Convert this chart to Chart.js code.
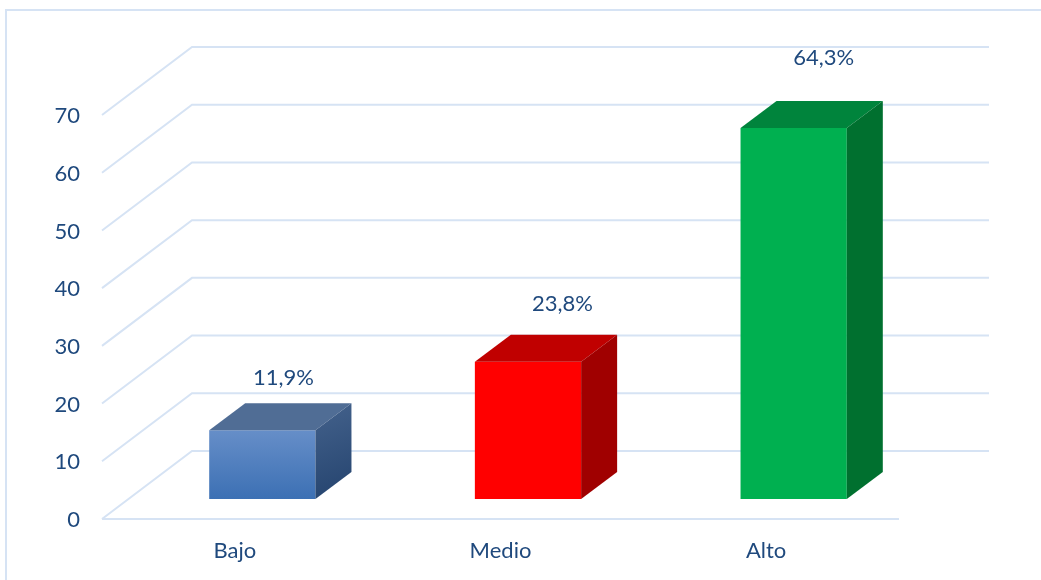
<!DOCTYPE html>
<html>
<head>
<meta charset="utf-8">
<style>
  html, body { margin: 0; padding: 0; background: #fff; overflow: hidden; }
  #wrap { position: relative; width: 1041px; height: 580px; }
  #frame { position: absolute; left: 5px; top: 9px; right: 0; bottom: 0; border-left: 2px solid #d6e3f4; border-top: 2px solid #d6e3f4; }
  canvas { position: absolute; left: 0; top: 0; }
</style>
</head>
<body>
<div id="wrap">
  <div id="frame"></div>
  <canvas id="chart" width="1041" height="580"></canvas>
</div>
<script src="https://cdn.jsdelivr.net/npm/chart.js@4/dist/chart.umd.js"></script>
<script>
const categories = ['Bajo', 'Medio', 'Alto'];
const values = [11.9, 23.8, 64.3];
const yTicks = [0, 10, 20, 30, 40, 50, 60, 70];

const textColor = '#1f497d';
const gridColor = '#d6e3f4';
const fontFamily = 'Lato, "Open Sans", sans-serif';

// front, top and side face colours of each bar
const frontTop = ['#668ec8', '#ff0000', '#00b050'];
const frontBottom = ['#3c70b4', '#ff0000', '#00b050'];
const topFace = ['#506d95', '#c00000', '#00843c'];
const sideStart = ['#44628c', '#a00000', '#00702f'];
const sideEnd = ['#24436e', '#a00000', '#00702f'];

// 3d offsets, in pixels
const wall = { dx: 90, dy: 68 };
const barShift = { dx: 27.5, dy: 20 };
const barDepth = { dx: 36, dy: 27 };

// the data labels were placed by hand in the original
const labelShiftX = [21, 34.5, 30];
const labelShiftY = [-52, -58, -70];

// back wall and floor grid, drawn from the y scale
const gridPlugin = {
  id: 'grid3d',
  beforeDatasetsDraw(chart) {
    const { ctx, scales: { x, y } } = chart;
    ctx.save();
    ctx.strokeStyle = gridColor;
    ctx.lineWidth = 2;
    yTicks.forEach(t => {
      const py = y.getPixelForValue(t);
      ctx.beginPath();
      ctx.moveTo(x.left, py);
      ctx.lineTo(x.left + wall.dx, py - wall.dy);
      ctx.lineTo(x.right + wall.dx, py - wall.dy);
      ctx.stroke();
    });
    ctx.beginPath();
    ctx.moveTo(x.left, y.bottom);
    ctx.lineTo(x.right, y.bottom);
    ctx.stroke();
    ctx.restore();
  },
  // native bars are the front faces, pushed back into the floor
  beforeDatasetDraw(chart) {
    chart.ctx.save();
    chart.ctx.translate(barShift.dx, -barShift.dy);
  },
  afterDatasetDraw(chart) {
    chart.ctx.restore();
  },
  afterDatasetsDraw(chart) {
    const { ctx } = chart;
    const bars = chart.getDatasetMeta(0).data;
    ctx.save();
    bars.forEach((bar, i) => {
      const left = bar.x - bar.width / 2 + barShift.dx;
      const right = bar.x + bar.width / 2 + barShift.dx;
      const top = bar.y - barShift.dy;
      const bottom = bar.base - barShift.dy;

      ctx.fillStyle = topFace[i];
      ctx.beginPath();
      ctx.moveTo(left, top);
      ctx.lineTo(left + barDepth.dx, top - barDepth.dy);
      ctx.lineTo(right + barDepth.dx, top - barDepth.dy);
      ctx.lineTo(right, top);
      ctx.closePath();
      ctx.fill();

      const g = ctx.createLinearGradient(right, top - barDepth.dy, right + barDepth.dx, bottom);
      g.addColorStop(0, sideStart[i]);
      g.addColorStop(1, sideEnd[i]);
      ctx.fillStyle = g;
      ctx.beginPath();
      ctx.moveTo(right, top);
      ctx.lineTo(right + barDepth.dx, top - barDepth.dy);
      ctx.lineTo(right + barDepth.dx, bottom - barDepth.dy);
      ctx.lineTo(right, bottom);
      ctx.closePath();
      ctx.fill();

      ctx.fillStyle = textColor;
      ctx.font = '22px ' + fontFamily;
      ctx.textAlign = 'center';
      ctx.textBaseline = 'middle';
      const text = values[i].toFixed(1).replace('.', ',') + '%';
      ctx.fillText(text, bar.x + barShift.dx + labelShiftX[i], top + labelShiftY[i]);
    });
    ctx.restore();
  }
};

new Chart(document.getElementById('chart'), {
  type: 'bar',
  data: {
    labels: categories,
    datasets: [{
      label: 'Nivel',
      data: values,
      barPercentage: 0.4,
      categoryPercentage: 1,
      backgroundColor: c => {
        const i = c.dataIndex;
        const y = c.chart.scales.y;
        const from = y ? y.getPixelForValue(values[i]) : NaN;
        const to = y ? y.getPixelForValue(0) : NaN;
        if (!Number.isFinite(from) || !Number.isFinite(to)) return frontBottom[i] || frontBottom[0];
        const g = c.chart.ctx.createLinearGradient(0, from, 0, to);
        g.addColorStop(0, frontTop[i]);
        g.addColorStop(1, frontBottom[i]);
        return g;
      }
    }]
  },
  options: {
    responsive: false,
    animation: false,
    layout: { padding: { top: 115, right: 142, bottom: 0, left: 0 } },
    plugins: {
      legend: { display: false },
      tooltip: { enabled: false }
    },
    scales: {
      x: {
        grid: { display: false },
        border: { display: false },
        afterFit: s => { s.height = 61; },
        ticks: { color: textColor, padding: 11, font: { family: fontFamily, size: 22 } }
      },
      y: {
        min: 0,
        max: 70,
        grid: { display: false },
        border: { display: false },
        afterFit: s => { s.width = 102; },
        ticks: { stepSize: 10, color: textColor, padding: 14, labelOffset: 1, font: { family: fontFamily, size: 22 } }
      }
    }
  },
  plugins: [gridPlugin]
});
</script>
</body>
</html>
